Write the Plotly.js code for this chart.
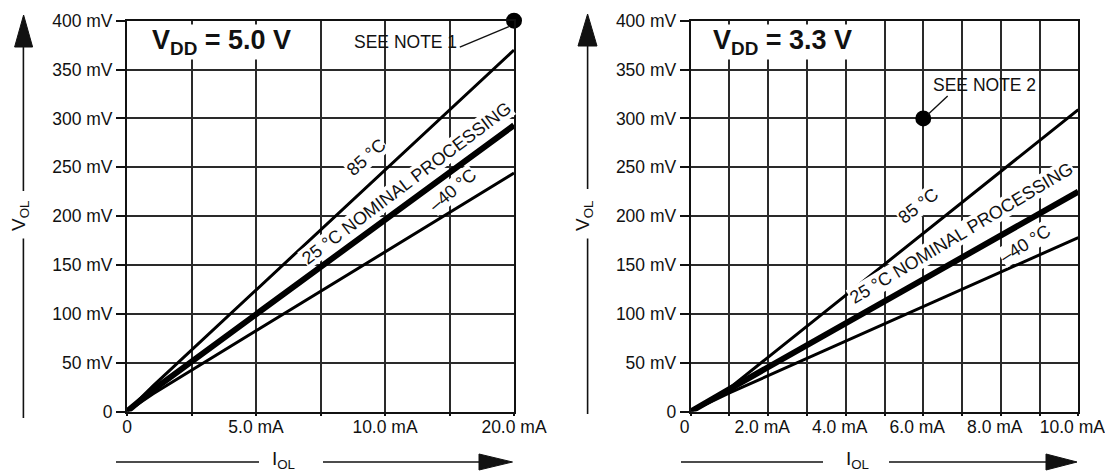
<!DOCTYPE html>
<html>
<head>
<meta charset="utf-8">
<script src="https://cdn.plot.ly/plotly-3.0.1.min.js"></script>
<style>
html,body{margin:0;padding:0;background:#fff;}
#chart{width:1105px;height:472px;}
</style>
</head>
<body>
<div id="chart"></div>
<script>
// ---------- data ----------
// left panel (VDD = 5.0 V): current positions along the axis, voltage in mV
var leftCurrent = [0, 1, 15];
var left85 = [0, 26, 370];
var leftNominal = [0, 22, 293];
var leftMinus40 = [0, 18, 244];
var leftNoteX = [15];
var leftNoteY = [400];

// right panel (VDD = 3.3 V): current in mA, voltage in mV
var rightCurrent = [0, 1, 10];
var right85 = [0, 24, 309];
var rightNominal = [0, 23, 225];
var rightMinus40 = [0, 19, 178];
var rightNoteX = [6];
var rightNoteY = [300];

// tick labels
var leftXTickVals = [0, 5, 10, 15];
var leftXTickText = ['0', '5.0 mA', '10.0 mA', '20.0 mA'];
var leftXMinorVals = [2.5, 7.5, 12.5];
var rightXTickVals = [0, 2, 4, 6, 8, 10];
var rightXTickText = ['0', '2.0 mA', '4.0 mA', '6.0 mA', '8.0 mA', '10.0 mA'];
var rightXMinorVals = [1, 3, 5, 7, 9];
var yTickVals = [0, 50, 100, 150, 200, 250, 300, 350, 400];
var yTickText = ['0', '50 mV', '100 mV', '150 mV', '200 mV', '250 mV', '300 mV', '350 mV', '400 mV'];

// ---------- style ----------
var W = 1105, H = 472;
function px(x) { return x / W; }
function py(y) { return 1 - y / H; }
var NARROW = '"Liberation Sans", Arial, Helvetica, sans-serif';
var BOLD = '"Liberation Sans", Arial, Helvetica, sans-serif';
var INK = '#111';
var GRID = '#2a2a2a';
var FS = 17.5;
var tickFont = {family: NARROW, size: FS, color: INK};

function lineTrace(x, y, w, xa, ya) {
  return {x: x, y: y, type: 'scatter', mode: 'lines', xaxis: xa, yaxis: ya,
          line: {color: '#000', width: w}, hoverinfo: 'skip', showlegend: false};
}
function dotTrace(x, y, xa, ya) {
  return {x: x, y: y, type: 'scatter', mode: 'markers', xaxis: xa, yaxis: ya, cliponaxis: false,
          marker: {color: '#000', size: 16}, hoverinfo: 'skip', showlegend: false};
}

var data = [
  lineTrace(leftCurrent, leftMinus40, 3, 'x', 'y'),
  lineTrace(leftCurrent, left85, 3, 'x', 'y'),
  lineTrace(leftCurrent, leftNominal, 6, 'x', 'y'),
  dotTrace(leftNoteX, leftNoteY, 'x', 'y'),
  lineTrace(rightCurrent, rightMinus40, 3, 'x2', 'y2'),
  lineTrace(rightCurrent, right85, 3, 'x2', 'y2'),
  lineTrace(rightCurrent, rightNominal, 6, 'x2', 'y2'),
  dotTrace(rightNoteX, rightNoteY, 'x2', 'y2')
];

function xAxis(domain, range, vals, text, minorVals, anchor, shift) {
  return {domain: domain, range: range, anchor: anchor, tickmode: 'array', tickvals: vals, ticktext: text,
          minor: {tickmode: 'array', tickvals: minorVals, showgrid: true, gridcolor: GRID, gridwidth: 2,
                  ticks: 'outside', ticklen: 2, tickcolor: INK, tickwidth: 2},
          showgrid: true, gridcolor: GRID, gridwidth: 2, zeroline: false,
          showline: true, linecolor: INK, linewidth: 2, mirror: true,
          ticks: 'outside', ticklen: 2, tickcolor: INK, tickwidth: 2, tickfont: tickFont,
          ticklabelstandoff: -4, ticklabelshift: shift, ticklabeloverflow: 'allow', fixedrange: true};
}
function yAxis(anchor) {
  return {domain: [py(411.5), py(20.7)], range: [0, 400], anchor: anchor, tickmode: 'array',
          tickvals: yTickVals, ticktext: yTickText,
          showgrid: true, gridcolor: GRID, gridwidth: 2, zeroline: false,
          showline: true, linecolor: INK, linewidth: 2, mirror: true,
          ticks: 'outside', ticklen: 9, tickcolor: INK, tickwidth: 2, tickfont: tickFont, fixedrange: true};
}

function label(xref, yref, x, y, text, angle, size, family, bg) {
  return {xref: xref, yref: yref, x: x, y: y, text: text, textangle: angle, showarrow: false,
          font: {family: family || NARROW, size: size || FS, color: INK},
          bgcolor: bg === false ? 'rgba(0,0,0,0)' : '#fff', borderpad: 0,
          xanchor: 'center', yanchor: 'middle'};
}

var annotations = [
  label('x', 'y', 3.66, 378, '<b>V<sub>DD</sub> = 5.0 V</b>', 0, 27, BOLD),
  label('x2', 'y2', 2.37, 378, '<b>V<sub>DD</sub> = 3.3 V</b>', 0, 27, BOLD),
  label('x', 'y', 10.78, 378, 'SEE NOTE 1', 0, FS, NARROW, false),
  label('x2', 'y2', 7.57, 334, 'SEE NOTE 2', 0, FS, NARROW, false),
  label('x', 'y', 9.29, 260, '85 °C', -42, 18),
  label('x', 'y', 10.85, 234, '25 °C NOMINAL PROCESSING', -37, 18),
  label('x', 'y', 12.62, 227, '–40 °C', -40, 18),
  label('x2', 'y2', 5.87, 210, '85 °C', -38, 18),
  label('x2', 'y2', 6.99, 183, '25 °C NOMINAL PROCESSING', -31, 18),
  label('x2', 'y2', 8.63, 171, '–40 °C', -32, 18),
  label('paper', 'paper', px(20), py(216), 'V<sub>OL</sub>', -90, 19, NARROW, false),
  label('paper', 'paper', px(584), py(216), 'V<sub>OL</sub>', -90, 19, NARROW, false),
  label('paper', 'paper', px(283), py(459.5), 'I<sub>OL</sub>', 0, 19, NARROW, false),
  label('paper', 'paper', px(857), py(459.5), 'I<sub>OL</sub>', 0, 19, NARROW, false)
];

function seg(x0, y0, x1, y1, w) {
  return {type: 'line', xref: 'paper', yref: 'paper', x0: px(x0), y0: py(y0), x1: px(x1), y1: py(y1),
          line: {color: INK, width: w || 1.6}};
}
function tri(pts) {
  var d = 'M ' + pts.map(function (p) { return px(p[0]) + ' ' + py(p[1]); }).join(' L ') + ' Z';
  return {type: 'path', xref: 'paper', yref: 'paper', path: d, fillcolor: INK, line: {color: INK, width: 1}};
}

var shapes = [
  // leader lines to the note dots
  {type: 'line', xref: 'x', yref: 'y', x0: 12.9, y0: 373, x1: 14.8, y1: 394, line: {color: INK, width: 1.4}},
  {type: 'line', xref: 'x2', yref: 'y2', x0: 6.63, y0: 323, x1: 6.12, y1: 304, line: {color: INK, width: 1.4}},
  // left vertical axis arrow
  seg(23.4, 418, 23.4, 238.5), seg(23.4, 191, 23.4, 40),
  tri([[23.6, 15], [14.6, 47], [32.6, 47]]),
  // right vertical axis arrow
  seg(587.6, 414, 587.6, 238.5), seg(587.6, 189, 587.6, 40),
  tri([[587.6, 14], [578, 46], [597, 46]]),
  // left horizontal axis arrow
  seg(116, 462, 259, 462), seg(323, 462, 485, 462),
  tri([[512.5, 462], [479, 454], [479, 470]]),
  // right horizontal axis arrow
  seg(681, 462, 823, 462), seg(889, 462, 1050, 462),
  tri([[1077, 462], [1046, 454], [1046, 470]])
];

var layout = {
  width: W, height: H, margin: {l: 0, r: 0, t: 0, b: 0},
  paper_bgcolor: '#fff', plot_bgcolor: '#fff', showlegend: false,
  xaxis: xAxis([px(127), px(514)], [0, 15], leftXTickVals, leftXTickText, leftXMinorVals, 'y', 0),
  yaxis: yAxis('x'),
  xaxis2: xAxis([px(690.7), px(1078.3)], [0, 10], rightXTickVals, rightXTickText, rightXMinorVals, 'y2', -6),
  yaxis2: yAxis('x2'),
  annotations: annotations,
  shapes: shapes
};

Plotly.newPlot('chart', data, layout, {staticPlot: true, displayModeBar: false});
</script>
</body>
</html>
